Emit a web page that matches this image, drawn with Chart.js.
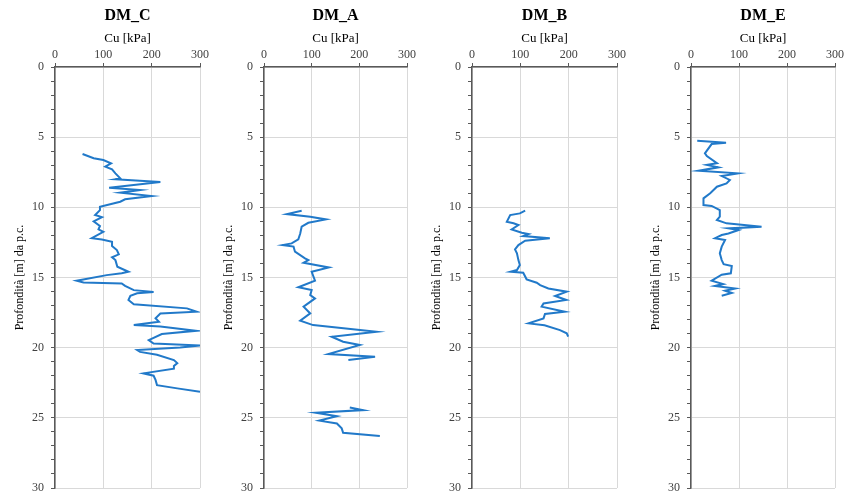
<!DOCTYPE html>
<html>
<head>
<meta charset="utf-8">
<script src="https://cdn.jsdelivr.net/npm/chart.js@4.4.1/dist/chart.umd.min.js"></script>
<style>
  body { margin: 0; background: #fff; width: 847px; height: 493px; position: relative; overflow: hidden; }
  canvas { position: absolute; top: 0; }
</style>
</head>
<body>
<canvas id="dmC"></canvas>
<canvas id="dmA"></canvas>
<canvas id="dmB"></canvas>
<canvas id="dmE"></canvas>
<script>
// Cu [kPa] vs depth [m] for each test
const xTicks = [0, 100, 200, 300];
const depthTicks = [0, 5, 10, 15, 20, 25, 30];

const dmC_depth = [6.2, 6.5, 6.63, 6.87, 7.1, 7.3, 7.58, 7.94, 8.0, 8.2, 8.6, 8.77, 8.96, 9.2, 9.43, 9.6, 9.96, 10.2, 10.55, 10.7, 11.0, 11.33, 11.57, 11.74, 12.2, 12.3, 12.45, 12.75, 13.04, 13.35, 13.56, 13.76, 14.23, 14.59, 14.7, 14.83, 15.23, 15.35, 15.42, 15.6, 15.9, 16.04, 16.13, 16.3, 16.6, 16.9, 17.2, 17.44, 17.56, 17.9, 18.15, 18.39, 18.5, 18.8, 19.03, 19.46, 19.7, 19.84, 19.98, 20.17, 20.3, 20.5, 20.88, 21.1, 21.3, 21.5, 21.83, 22.0, 22.3, 22.67, 22.9, 23.14];
const dmC_cu = [57, 80, 100, 116, 104, 118, 125, 135, 125, 218, 112, 176, 135, 200, 145, 135, 93, 93, 83, 97, 80, 93, 90, 100, 76, 97, 118, 118, 128, 132, 118, 125, 129, 152, 138, 107, 45, 59, 138, 145, 163, 204, 170, 156, 152, 163, 273, 293, 218, 208, 215, 163, 218, 291, 221, 194, 204, 300, 259, 170, 176, 211, 246, 253, 246, 246, 183, 204, 208, 211, 253, 300];

const dmA_depth = [10.24, 10.48, 10.67, 10.86, 11.1, 11.38, 11.86, 12.28, 12.57, 12.69, 12.8, 13.16, 13.64, 13.76, 13.95, 14.28, 14.59, 15.23, 15.7, 15.9, 16.25, 16.49, 17.08, 17.56, 18.08, 18.39, 18.86, 19.22, 19.58, 19.81, 20.46, 20.65, 20.88, null, 24.26, 24.45, 24.64, 24.88, 25.2, 25.4, 25.75, 26.07, 26.3];
const dmA_cu = [79, 48, 97, 130, 93, 79, 76, 72, 58, 39, 62, 65, 86, 93, 83, 136, 100, 107, 72, 100, 97, 107, 83, 97, 76, 103, 236, 142, 166, 201, 135, 233, 177, null, 180, 208, 109, 153, 116, 153, 163, 166, 243];

const dmB_depth = [10.24, 10.43, 10.55, 11.03, 11.14, 11.26, 11.57, 11.81, 11.9, 12.05, 12.21, 12.38, 12.69, 13.0, 13.28, 13.76, 14.11, 14.47, 14.59, 14.66, 15.13, 15.37, 15.54, 15.78, 16.01, 16.32, 16.6, 16.85, 17.08, 17.44, 17.6, 17.91, 18.27, 18.4, 18.75, 18.98, 19.22];
const dmB_cu = [110, 99, 79, 72, 86, 96, 82, 103, 117, 106, 161, 110, 96, 89, 93, 96, 99, 93, 80, 106, 113, 134, 141, 158, 196, 172, 195, 148, 144, 192, 151, 148, 117, 150, 182, 196, 199];

const dmE_depth = [5.25, 5.4, 5.49, 6.15, 6.35, 6.86, 6.98, 7.15, 7.39, 7.58, 7.77, 8.05, 8.3, 8.53, 9.0, 9.36, 9.84, 9.9, 10.19, 10.67, 10.9, 11.14, 11.38, 11.5, 11.62, 11.86, 11.97, 12.2, 12.33, 12.8, 13.28, 13.76, 14.05, 14.18, 14.7, 14.8, 15.23, 15.47, 15.6, 15.78, 15.94, 16.1, 16.3];
const dmE_cu = [13, 73, 43, 29, 33, 54, 33, 57, 17, 98, 64, 81, 74, 54, 40, 26, 26, 43, 60, 60, 54, 74, 147, 78, 99, 78, 64, 50, 71, 64, 60, 64, 68, 85, 83, 64, 43, 67, 50, 92, 71, 85, 64];

const panels = [
  { id: 'dmC', title: 'DM_C', depth: dmC_depth, cu: dmC_cu, plotLeft: 55, plotRight: 200 },
  { id: 'dmA', title: 'DM_A', depth: dmA_depth, cu: dmA_cu, plotLeft: 264, plotRight: 407 },
  { id: 'dmB', title: 'DM_B', depth: dmB_depth, cu: dmB_cu, plotLeft: 472, plotRight: 617 },
  { id: 'dmE', title: 'DM_E', depth: dmE_depth, cu: dmE_cu, plotLeft: 691, plotRight: 835 }
];

const FONT = '"Liberation Serif", "Times New Roman", serif';
const AXIS_LEFT = 55;   // room for the y label + ticks
const PAD_RIGHT = 15;
const TOP = 67;         // top of the plot area
const BOTTOM = 488;     // bottom of the plot area

// bold panel name centred above the plot area
const panelTitle = {
  id: 'panelTitle',
  afterDraw(chart, args, opts) {
    const { ctx, chartArea } = chart;
    ctx.save();
    ctx.font = 'bold 16px ' + FONT;
    ctx.fillStyle = '#000';
    ctx.textAlign = 'center';
    ctx.textBaseline = 'middle';
    ctx.fillText(opts.text, (chartArea.left + chartArea.right) / 2, 16);
    ctx.restore();
  }
};

panels.forEach(p => {
  const canvas = document.getElementById(p.id);
  const width = p.plotRight - p.plotLeft + AXIS_LEFT + PAD_RIGHT;
  canvas.width = width;
  canvas.height = 493;
  canvas.style.left = (p.plotLeft - AXIS_LEFT) + 'px';

  const points = p.depth.map((d, i) => ({ x: p.cu[i], y: d }));

  new Chart(canvas, {
    type: 'scatter',
    data: {
      datasets: [{
        data: points,
        showLine: true,
        spanGaps: false,
        borderColor: '#2179c9',
        borderWidth: 2,
        pointRadius: 0,
        pointHoverRadius: 0,
        tension: 0
      }]
    },
    plugins: [panelTitle],
    options: {
      responsive: false,
      animation: false,
      layout: { padding: { left: 0, right: PAD_RIGHT, top: 0, bottom: 493 - BOTTOM } },
      plugins: {
        legend: { display: false },
        tooltip: { enabled: false },
        panelTitle: { text: p.title }
      },
      scales: {
        x: {
          type: 'linear',
          position: 'top',
          min: 0,
          max: 300,
          afterBuildTicks: s => { s.ticks = xTicks.map(v => ({ value: v })); },
          afterFit: s => { s.height = TOP; s.paddingLeft = 0; s.paddingRight = 0; },
          ticks: { color: '#404040', font: { family: FONT, size: 12 }, padding: 1, maxRotation: 0 },
          grid: { color: '#d9d9d9', lineWidth: 1, tickLength: 4, tickColor: '#595959' },
          border: { color: '#595959', width: 1.5 },
          title: { display: true, text: 'Cu [kPa]', color: '#000', font: { family: FONT, size: 13 }, padding: { top: 31, bottom: 0 } }
        },
        y: {
          type: 'linear',
          reverse: true,
          min: 0,
          max: 30,
          afterFit: s => { s.width = AXIS_LEFT; s.paddingTop = 0; s.paddingBottom = 0; },
          ticks: {
            stepSize: 1,
            autoSkip: false,
            color: '#404040',
            font: { family: FONT, size: 12 },
            padding: 7,
            callback: v => depthTicks.includes(v) ? v : ''
          },
          grid: {
            color: c => (c.tick && depthTicks.includes(c.tick.value)) ? '#d9d9d9' : 'rgba(0,0,0,0)',
            tickColor: '#595959',
            tickLength: 4,
            lineWidth: 1
          },
          border: { color: '#595959', width: 1.5 },
          title: { display: true, text: 'Profondità [m] da p.c.', color: '#000', font: { family: FONT, size: 12 }, padding: { top: 13, bottom: 0 } }
        }
      }
    }
  });
});
</script>
</body>
</html>
